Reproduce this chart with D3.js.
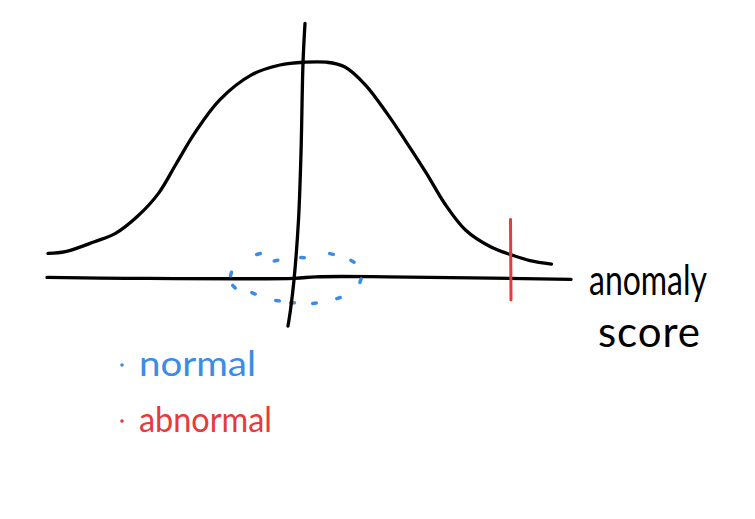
<!DOCTYPE html>
<html>
<head>
<meta charset="utf-8">
<script src="https://cdn.jsdelivr.net/npm/d3@7/dist/d3.min.js"></script>
<style>
  html, body { margin: 0; padding: 0; background: #fff; }
  svg { display: block; }
  text { font-family: "Lato", "Open Sans", sans-serif; }
</style>
</head>
<body>
<svg id="chart" width="755" height="519"></svg>
<script>
// ---- data (score units, density units) ----
const curveScore   = [-4.98,-4.63,-4.05,-3.63,-3.20,-2.77,-2.41,-2.05,-1.55,-0.91,-0.34,0.16,0.59,0.95,1.37,1.80,2.16,2.59,2.95,3.37,3.87,4.30,4.66,5.09];
const curveDensity = [0.110,0.118,0.164,0.203,0.280,0.389,0.529,0.668,0.823,0.940,0.986,0.999,0.999,0.978,0.893,0.761,0.637,0.482,0.343,0.219,0.141,0.102,0.076,0.060];

const xAxisScore   = [-5.0,-3.42,-0.06,0.38,1.80,5.48];
const xAxisDensity = [-0.002,-0.006,-0.006,0.001,0.001,-0.011];

const yAxisScore   = [0.16,0.12,0.08,0.03,-0.06,-0.13,-0.18];
const yAxisDensity = [1.18,0.995,0.577,0.265,-0.014,-0.153,-0.228];

const thresholdScore = 4.27;
const thresholdRange = [0.268, -0.107];

const normalScore   = [-0.77,-0.42,0.11,0.69,1.11,-1.32,1.27,-1.26,-0.87,-0.39,-0.09,0.35,0.83];
const normalDensity = [0.107,0.076,0.090,0.107,0.073,0.014,-0.017,-0.045,-0.076,-0.110,-0.120,-0.122,-0.098];

const axisLabel = ["anomaly", "score"];
const legendLabels = ["normal", "abnormal"];
const legendColors = ["#3b8ce8", "#e8393c"];

// ---- scales ----
const x = d3.scaleLinear().domain([-5, 5]).range([47, 547]);
const y = d3.scaleLinear().domain([0, 1]).range([277, 62]);

const svg = d3.select("#chart");
const line = d3.line().x(d => x(d[0])).y(d => y(d[1])).curve(d3.curveCatmullRom.alpha(0.5));

const ink = "#000";
const sw = 3.3;

// horizontal axis
svg.append("path")
  .datum(d3.zip(xAxisScore, xAxisDensity))
  .attr("d", line).attr("fill", "none")
  .attr("stroke", ink).attr("stroke-width", sw).attr("stroke-linecap", "round");

// blue normal dashes (tangent to ellipse around origin)
const cx = x(0), cy = y(0), rx = 66, ry = 26;
svg.append("g").selectAll("line")
  .data(d3.zip(normalScore, normalDensity))
  .join("line")
  .each(function(d) {
    const px = x(d[0]), py = y(d[1]);
    const dx = px - cx, dy = py - cy;
    let tx = -dy / (ry * ry), ty = dx / (rx * rx);
    const n = Math.hypot(tx, ty) || 1;
    tx /= n; ty /= n;
    const h = 1.8;
    d3.select(this)
      .attr("x1", px - tx * h).attr("y1", py - ty * h)
      .attr("x2", px + tx * h).attr("y2", py + ty * h);
  })
  .attr("stroke", legendColors[0]).attr("stroke-width", 3.5).attr("stroke-linecap", "round");

// density curve
svg.append("path")
  .datum(d3.zip(curveScore, curveDensity))
  .attr("d", line).attr("fill", "none")
  .attr("stroke", ink).attr("stroke-width", sw).attr("stroke-linecap", "round")
  .attr("stroke-linejoin", "round");

// vertical axis
svg.append("path")
  .datum(d3.zip(yAxisScore, yAxisDensity))
  .attr("d", line).attr("fill", "none")
  .attr("stroke", ink).attr("stroke-width", sw).attr("stroke-linecap", "round");

// threshold
svg.append("line")
  .attr("x1", x(thresholdScore)).attr("x2", x(thresholdScore) + 0.5)
  .attr("y1", y(thresholdRange[0])).attr("y2", y(thresholdRange[1]))
  .attr("stroke", legendColors[1]).attr("stroke-width", 3).attr("stroke-linecap", "round");

// axis label
svg.append("text").attr("x", 589).attr("y", 295)
  .attr("font-size", 42).attr("textLength", 118).attr("lengthAdjust", "spacingAndGlyphs")
  .attr("fill", ink).text(axisLabel[0]);
svg.append("text").attr("x", 598).attr("y", 347)
  .attr("font-size", 42).attr("textLength", 102).attr("lengthAdjust", "spacing")
  .attr("fill", ink).text(axisLabel[1]);

// legend
const leg = svg.append("g").selectAll("g").data(legendLabels).join("g")
  .attr("transform", (d, i) => `translate(0, ${i * 56})`);
leg.append("circle").attr("cx", 122).attr("cy", 365).attr("r", 1.8)
  .attr("fill", (d, i) => legendColors[i]);
leg.append("text").attr("x", 139).attr("y", 376)
  .attr("font-size", 34)
  .attr("textLength", (d, i) => i === 0 ? 117 : 133)
  .attr("lengthAdjust", "spacingAndGlyphs")
  .attr("fill", (d, i) => legendColors[i]).text(d => d);
</script>
</body>
</html>
